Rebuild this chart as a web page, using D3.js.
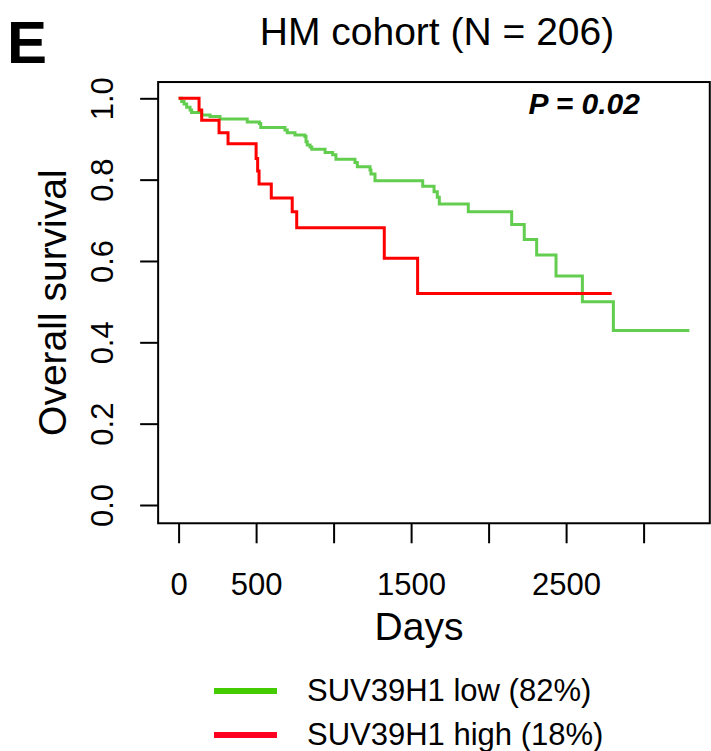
<!DOCTYPE html>
<html>
<head>
<meta charset="utf-8">
<script src="https://cdn.jsdelivr.net/npm/d3@7"></script>
<style>
  body { margin: 0; background: #fff; }
  svg text { font-family: "Liberation Sans", Arial, Helvetica, sans-serif; fill: #000; }
</style>
</head>
<body>
<svg id="chart" width="711" height="751"></svg>
<script>
// Kaplan-Meier steps (days, survival)
const lowTimes = [0, 20, 35, 52, 74, 84, 149, 203, 267, 443, 521, 530, 686, 701, 751, 815, 822, 830, 848, 859,
                  945, 994, 1015, 1138, 1153, 1235, 1241, 1267, 1575, 1648, 1669, 1682, 1869, 2149, 2230,
                  2310, 2435, 2605, 2805, 3295];
const lowSurv = [1, 0.992, 0.986, 0.978, 0.971, 0.965, 0.959, 0.955, 0.949, 0.942, 0.938, 0.928, 0.922, 0.915,
                 0.910, 0.906, 0.893, 0.885, 0.880, 0.875, 0.867, 0.861, 0.850, 0.842, 0.832, 0.824, 0.814,
                 0.797, 0.784, 0.770, 0.757, 0.740, 0.721, 0.690, 0.653, 0.615, 0.563, 0.500, 0.429, 0.429];

const highTimes = [0, 132, 149, 261, 319, 500, 510, 519, 598, 733, 762, 1327, 1542, 2794];
const highSurv = [1, 0.971, 0.946, 0.915, 0.888, 0.852, 0.821, 0.789, 0.755, 0.721, 0.682, 0.607, 0.520, 0.520];

const xTicks = [0, 500, 1000, 1500, 2000, 2500, 3000];
const xTickLabels = ['0', '500', '', '1500', '', '2500', ''];
const yTicks = [0, 0.2, 0.4, 0.6, 0.8, 1.0];

const seriesNames = ['SUV39H1 low (82%)', 'SUV39H1 high (18%)'];
const curveColors = ['#62cd4f', '#ff0000'];
const legendColors = ['#44cc00', '#ff0022'];

const svg = d3.select('#chart');

// scales, tick positions
const x = d3.scaleLinear().domain([0, 3000]).range([178.6, 643.6]);
const y = d3.scaleLinear().domain([0, 1]).range([505, 98.3]);

const plotLeft = x(-132), plotRight = x(3427);
const plotTop = y(1.04), plotBottom = y(-0.04) + 2;

// box
svg.append('rect')
    .attr('x', plotLeft).attr('y', plotTop)
    .attr('width', plotRight - plotLeft).attr('height', plotBottom - plotTop)
    .attr('fill', 'none').attr('stroke', '#000').attr('stroke-width', 2);

// x axis
let xAxis = svg.append('g')
    .attr('transform', `translate(0,${plotBottom})`)
    .call(d3.axisBottom(x)
        .tickValues(xTicks)
        .tickFormat((d, i) => xTickLabels[i])
        .tickSize(20)
        .tickSizeOuter(0)
        .tickPadding(30));
xAxis.select('.domain').remove();
xAxis.selectAll('line').attr('stroke', '#000').attr('stroke-width', 2);
xAxis.selectAll('text').attr('font-size', 31).style('font-family', '"Liberation Sans", Arial, sans-serif');

// y axis
let yAxis = svg.append('g')
    .attr('transform', `translate(${plotLeft},0)`)
    .call(d3.axisLeft(y)
        .tickValues(yTicks)
        .tickFormat(d3.format('.1f'))
        .tickSize(18)
        .tickSizeOuter(0));
yAxis.select('.domain').remove();
yAxis.selectAll('line').attr('stroke', '#000').attr('stroke-width', 2);
yAxis.selectAll('text')
    .attr('x', 0).attr('dy', 0)
    .attr('text-anchor', 'middle')
    .attr('transform', 'translate(-45,0) rotate(-90)')
    .attr('font-size', 31)
    .style('font-family', '"Liberation Sans", Arial, sans-serif');

// curves
const line = d3.line()
    .x(d => x(d[0]))
    .y(d => y(d[1]))
    .curve(d3.curveStepAfter);

const series = [
    d3.zip(lowTimes, lowSurv),
    d3.zip(highTimes, highSurv)
];

svg.selectAll('path.km').data(series).enter()
    .append('path')
        .classed('km', true)
        .attr('d', line)
        .attr('fill', 'none')
        .attr('stroke', (d, i) => curveColors[i])
        .attr('stroke-width', 3);

// titles
svg.append('text')
    .attr('x', 27).attr('y', 63)
    .attr('text-anchor', 'middle')
    .attr('font-size', 60).attr('font-weight', 'bold')
    .text('E');

svg.append('text')
    .attr('x', 437).attr('y', 45)
    .attr('text-anchor', 'middle')
    .attr('font-size', 39)
    .text('HM cohort (N = 206)');

svg.append('text')
    .attr('x', 419).attr('y', 640)
    .attr('text-anchor', 'middle')
    .attr('font-size', 39)
    .text('Days');

svg.append('text')
    .attr('transform', `translate(66,${(plotTop + plotBottom) / 2}) rotate(-90)`)
    .attr('text-anchor', 'middle')
    .attr('font-size', 39)
    .text('Overall survival');

svg.append('text')
    .attr('x', 640).attr('y', 114)
    .attr('text-anchor', 'end')
    .attr('font-size', 30).attr('font-weight', 'bold').attr('font-style', 'italic')
    .text('P = 0.02');

// legend
const legendY = d3.scalePoint().domain(seriesNames).range([691, 735]);
let legend = svg.selectAll('g.legend').data(seriesNames).enter()
    .append('g')
        .classed('legend', true)
        .attr('transform', d => `translate(0,${legendY(d)})`);
legend.append('line')
    .attr('x1', 214).attr('x2', 277)
    .attr('stroke', (d, i) => legendColors[i])
    .attr('stroke-width', 6);
legend.append('text')
    .attr('x', 307).attr('y', 10)
    .attr('font-size', 31)
    .text(d => d);
</script>
</body>
</html>
